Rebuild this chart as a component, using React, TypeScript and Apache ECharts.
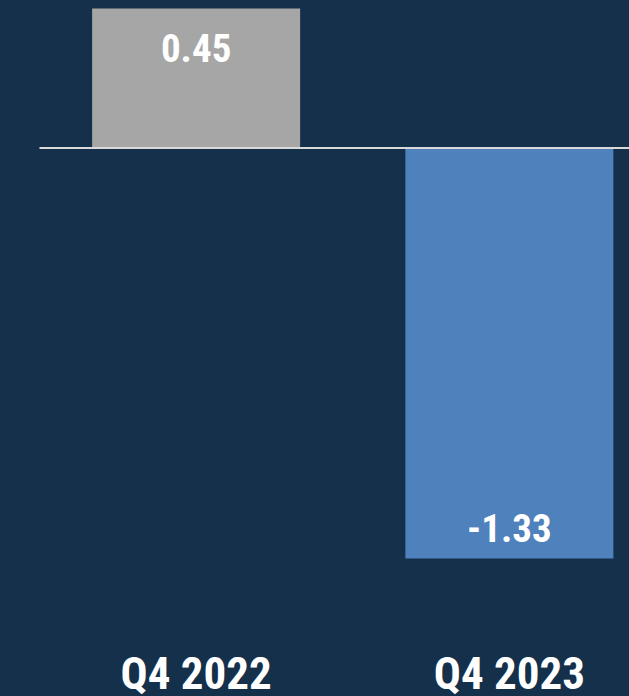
import React, { useEffect, useRef } from "react";
import * as echarts from "echarts";

const categories = ["Q4 2022", "Q4 2023"];
const values = [0.45, -1.33];
const barColors = ["#a6a6a6", "#4f81bd"];
const valueLabels = ["0.45", "-1.33"];

const FONT = "'Liberation Sans Narrow', 'Arial Narrow', 'Roboto Condensed', 'Liberation Sans', sans-serif";

export default function App() {
  const ref = useRef<HTMLDivElement>(null);
  useEffect(() => {
    if (!ref.current) return;
    const chart = echarts.init(ref.current, null, { renderer: "svg" });
    chart.setOption({
      animation: false,
      backgroundColor: "#15304a",
      grid: { left: 39.5, top: 8.5, right: 0, height: 604.5 },
      xAxis: {
        type: "category",
        data: categories,
        axisLine: { show: false, onZero: false },
        axisTick: { show: false },
        splitLine: { show: false },
        axisLabel: {
          color: "#ffffff",
          fontFamily: FONT,
          fontWeight: "bold",
          fontSize: 45,
          lineHeight: 45,
          margin: 40,
        },
      },
      yAxis: {
        type: "value",
        min: -1.5,
        max: 0.45,
        show: false,
        splitLine: { show: false },
      },
      series: [
        {
          type: "bar",
          barWidth: 208,
          data: values.map((v, i) => ({
            value: v,
            itemStyle: { color: barColors[i] },
            label: {
              show: true,
              position: v >= 0 ? "insideTop" : "insideBottom",
              distance: v >= 0 ? 21 : 10,
              formatter: valueLabels[i],
              color: "#ffffff",
              fontFamily: FONT,
              fontWeight: "bold",
              fontSize: 39,
            },
          })),
          markLine: {
            silent: true,
            symbol: "none",
            label: { show: false },
            lineStyle: { color: "#d9d9d9", width: 2, type: "solid" },
            data: [{ yAxis: 0 }],
          },
        },
      ],
    });
    return () => chart.dispose();
  }, []);
  return (
    <div
      style={{ position: "absolute", left: 0, top: 0, width: 629, height: 696, overflow: "hidden" }}
    >
      <div ref={ref} style={{ width: 666, height: 696 }} />
    </div>
  );
}
